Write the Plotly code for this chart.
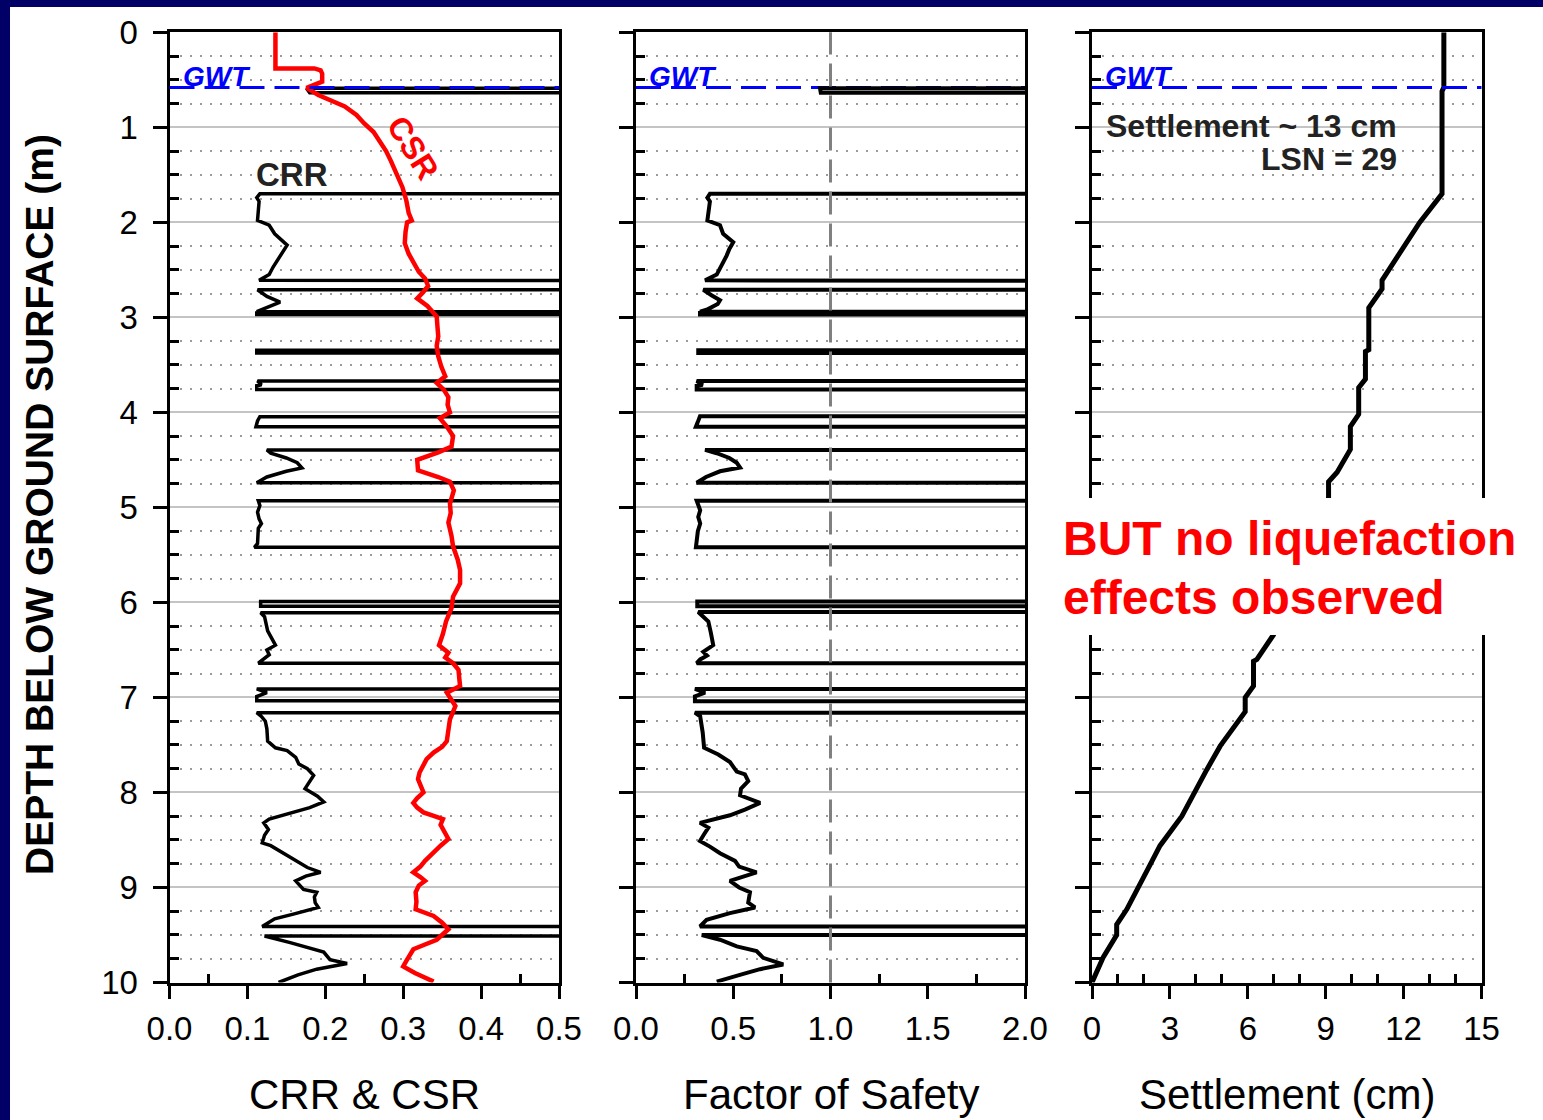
import plotly.graph_objects as go

W, H = 1543, 1120

# ---------------- data ----------------
# CRR (values of 2.0 mark non-liquefiable layers that plot off the right edge)
CRR_DEPTH = [0.00, 0.585, 0.59, 0.635, 0.64, 1.70, 1.70, 1.74, 1.78, 1.98, 2.03, 2.12, 2.24, 2.35, 2.47, 2.55, 2.61,
             2.625, 2.71, 2.71, 2.78, 2.84, 2.90, 2.94, 2.94, 2.955, 2.955, 2.97, 2.97,
             3.345, 3.345, 3.375, 3.375, 3.67, 3.67, 3.71, 3.72, 3.76, 3.76,
             4.045, 4.045, 4.09, 4.15, 4.15, 4.395, 4.395, 4.43, 4.48, 4.53, 4.585, 4.62, 4.68, 4.74, 4.74,
             4.93, 4.93, 4.98, 5.05, 5.12, 5.17, 5.22, 5.30, 5.38, 5.42, 5.42,
             5.99, 5.99, 6.04, 6.04, 6.11, 6.11, 6.15, 6.20, 6.30, 6.45, 6.50, 6.55, 6.60, 6.64, 6.64,
             6.91, 6.91, 6.95, 6.99, 7.035, 7.035, 7.16, 7.16, 7.20, 7.25, 7.33, 7.46, 7.53, 7.56, 7.63, 7.70,
             7.75, 7.82, 7.88, 7.96, 8.04, 8.10, 8.16, 8.24, 8.28, 8.32, 8.39, 8.45, 8.53, 8.56, 8.65, 8.72,
             8.79, 8.84, 8.88, 8.93, 9.02, 9.05, 9.10, 9.16, 9.21, 9.28, 9.33, 9.41, 9.41,
             9.51, 9.51, 9.58, 9.63, 9.68, 9.76, 9.80, 9.86, 9.92, 10.0]
CRR_VALUE = [2.0, 2.0, 0.176, 0.180, 2.0, 2.0, 0.116, 0.112, 0.115, 0.113, 0.128, 0.135, 0.151, 0.142, 0.133, 0.128, 0.115,
             2.0, 2.0, 0.113, 0.125, 0.142, 0.125, 0.112, 2.0, 2.0, 0.112, 0.112, 2.0,
             2.0, 0.112, 0.112, 2.0, 2.0, 0.113, 0.118, 0.112, 0.112, 2.0,
             2.0, 0.116, 0.113, 0.111, 2.0, 2.0, 0.125, 0.130, 0.150, 0.164, 0.170, 0.150, 0.125, 0.112, 2.0,
             2.0, 0.114, 0.116, 0.113, 0.115, 0.118, 0.114, 0.114, 0.113, 0.109, 2.0,
             2.0, 0.117, 0.117, 2.0, 2.0, 0.117, 0.122, 0.123, 0.126, 0.136, 0.125, 0.128, 0.120, 0.114, 2.0,
             2.0, 0.112, 0.125, 0.112, 0.112, 2.0, 2.0, 0.112, 0.118, 0.123, 0.125, 0.126, 0.136, 0.151, 0.162, 0.166,
             0.177, 0.185, 0.180, 0.174, 0.190, 0.198, 0.180, 0.146, 0.128, 0.121, 0.127, 0.122, 0.119, 0.130, 0.149, 0.164,
             0.177, 0.194, 0.175, 0.162, 0.172, 0.189, 0.186, 0.187, 0.191, 0.159, 0.135, 0.119, 2.0,
             2.0, 0.122, 0.155, 0.177, 0.198, 0.206, 0.228, 0.189, 0.165, 0.140]

CSR_DEPTH = [0.00, 0.38, 0.38, 0.40, 0.435, 0.52, 0.585, 0.62, 0.66, 0.72, 0.78, 0.87, 0.96, 1.05, 1.14, 1.25, 1.35,
             1.50, 1.63, 1.77, 1.90, 1.98, 2.00, 2.10, 2.22, 2.33, 2.43, 2.52, 2.59, 2.67, 2.74, 2.80, 2.88, 2.99,
             3.10, 3.20, 3.30, 3.41, 3.52, 3.62, 3.69, 3.76, 3.84, 3.92, 4.00, 4.06, 4.15, 4.25, 4.36, 4.42, 4.50,
             4.61, 4.68, 4.73, 4.82, 4.96, 5.06, 5.16, 5.30, 5.41, 5.55, 5.66, 5.80, 5.94, 6.06, 6.20, 6.33, 6.45,
             6.53, 6.58, 6.64, 6.71, 6.80, 6.88, 6.95, 7.02, 7.09, 7.23, 7.35, 7.46, 7.52, 7.58, 7.65, 7.72, 7.79,
             7.86, 7.93, 8.00, 8.06, 8.11, 8.16, 8.21, 8.25, 8.28, 8.34, 8.39, 8.49, 8.56, 8.63, 8.72, 8.78, 8.84,
             8.89, 8.93, 8.98, 9.05, 9.15, 9.23, 9.30, 9.37, 9.44, 9.49, 9.55, 9.60, 9.65, 9.76, 9.83, 9.90, 9.99]
CSR_VALUE = [0.136, 0.136, 0.186, 0.194, 0.196, 0.196, 0.176, 0.183, 0.191, 0.208, 0.225, 0.240, 0.250, 0.262, 0.270, 0.278, 0.284,
             0.292, 0.299, 0.304, 0.307, 0.311, 0.305, 0.303, 0.302, 0.307, 0.313, 0.320, 0.328, 0.332, 0.325, 0.318, 0.331, 0.343,
             0.344, 0.345, 0.343, 0.345, 0.349, 0.354, 0.343, 0.352, 0.358, 0.357, 0.360, 0.347, 0.356, 0.364, 0.362, 0.345, 0.318,
             0.319, 0.345, 0.360, 0.365, 0.360, 0.361, 0.358, 0.362, 0.364, 0.370, 0.373, 0.373, 0.364, 0.362, 0.355, 0.351, 0.346,
             0.358, 0.354, 0.364, 0.371, 0.372, 0.373, 0.356, 0.362, 0.367, 0.360, 0.358, 0.356, 0.350, 0.339, 0.330, 0.326, 0.321,
             0.319, 0.322, 0.326, 0.318, 0.313, 0.318, 0.326, 0.340, 0.351, 0.348, 0.351, 0.358, 0.348, 0.339, 0.328, 0.322, 0.313,
             0.322, 0.328, 0.320, 0.316, 0.317, 0.316, 0.339, 0.350, 0.358, 0.352, 0.343, 0.328, 0.313, 0.305, 0.300, 0.315, 0.339]

# Factor of safety (values of 5.0 mark non-liquefiable layers, off the right edge)
FS_DEPTH = [0.00, 0.585, 0.59, 0.635, 0.64, 1.70, 1.70, 1.74, 1.78, 1.98, 2.03, 2.12, 2.21, 2.28, 2.35, 2.47, 2.55, 2.61,
            2.625, 2.71, 2.71, 2.77, 2.82, 2.86, 2.92, 2.94, 2.94, 2.955, 2.955, 2.97, 2.97,
            3.345, 3.345, 3.375, 3.375, 3.67, 3.67, 3.71, 3.72, 3.76, 3.76,
            4.04, 4.04, 4.10, 4.15, 4.15, 4.395, 4.395, 4.43, 4.48, 4.53, 4.58, 4.62, 4.68, 4.74, 4.74,
            4.93, 4.93, 5.03, 5.10, 5.17, 5.25, 5.35, 5.42, 5.42,
            5.99, 5.99, 6.04, 6.04, 6.10, 6.10, 6.15, 6.20, 6.32, 6.45, 6.52, 6.56, 6.60, 6.64, 6.64,
            6.91, 6.91, 6.95, 6.99, 7.04, 7.04, 7.16, 7.16, 7.20, 7.37, 7.53, 7.60, 7.68, 7.78, 7.81, 7.88, 7.96,
            8.03, 8.11, 8.18, 8.24, 8.32, 8.37, 8.44, 8.51, 8.57, 8.64, 8.72, 8.78, 8.84, 8.93, 9.00, 9.05, 9.16,
            9.21, 9.27, 9.34, 9.41, 9.41, 9.50, 9.50, 9.55, 9.62, 9.67, 9.74, 9.81, 9.86, 9.91, 9.99]
FS_VALUE = [5.0, 5.0, 0.946, 0.950, 5.0, 5.0, 0.380, 0.367, 0.380, 0.367, 0.432, 0.448, 0.500, 0.480, 0.466, 0.432, 0.415, 0.355,
            5.0, 5.0, 0.346, 0.390, 0.432, 0.420, 0.363, 0.329, 5.0, 5.0, 0.329, 0.329, 5.0,
            5.0, 0.320, 0.320, 5.0, 5.0, 0.312, 0.343, 0.312, 0.312, 5.0,
            5.0, 0.329, 0.318, 0.308, 5.0, 5.0, 0.355, 0.415, 0.480, 0.518, 0.535, 0.432, 0.360, 0.312, 5.0,
            5.0, 0.312, 0.330, 0.320, 0.330, 0.318, 0.315, 0.308, 5.0,
            5.0, 0.315, 0.315, 5.0, 5.0, 0.320, 0.345, 0.372, 0.385, 0.397, 0.346, 0.365, 0.330, 0.312, 5.0,
            5.0, 0.303, 0.355, 0.303, 0.303, 5.0, 5.0, 0.303, 0.330, 0.343, 0.350, 0.423, 0.483, 0.518, 0.560, 0.577, 0.540,
            0.535, 0.638, 0.560, 0.483, 0.329, 0.372, 0.350, 0.329, 0.380, 0.432, 0.509, 0.530, 0.620, 0.483, 0.530, 0.586, 0.577,
            0.612, 0.483, 0.363, 0.329, 5.0, 5.0, 0.338, 0.432, 0.518, 0.620, 0.654, 0.757, 0.638, 0.552, 0.415]

SETTLE_DEPTH = [0.00, 0.58, 0.62, 1.70, 2.00, 2.61, 2.70, 2.90, 3.34, 3.36, 3.65, 3.74, 4.02, 4.15, 4.39, 4.63, 4.73,
                4.90, 5.40, 5.90, 6.34, 6.60, 6.62, 6.88, 7.00, 7.15, 7.51, 7.76, 8.25, 8.56, 8.76, 9.23, 9.39, 9.50,
                9.73, 10.00]
SETTLE_CM = [13.55, 13.55, 13.48, 13.48, 12.62, 11.17, 11.17, 10.66, 10.66, 10.53, 10.53, 10.27, 10.27, 9.95, 9.95, 9.44, 9.11,
             9.11, 8.40, 7.60, 6.99, 6.35, 6.22, 6.22, 5.90, 5.90, 4.94, 4.42, 3.46, 2.62, 2.24, 1.34, 0.95, 0.95,
             0.44, 0.00]

GWT_DEPTH = 0.58
FS_THRESHOLD = 1.0

DEPTH_TICKS = list(range(0, 11))
DEPTH_MINOR = [i + f for i in range(10) for f in (0.25, 0.5, 0.75)]
CRR_TICKS = [0.0, 0.1, 0.2, 0.3, 0.4, 0.5]
CRR_LABELS = ["0.0", "0.1", "0.2", "0.3", "0.4", "0.5"]
CRR_MINOR = [0.05, 0.25, 0.45]
FS_TICKS = [0.0, 0.5, 1.0, 1.5, 2.0]
FS_LABELS = ["0.0", "0.5", "1.0", "1.5", "2.0"]
FS_MINOR = [0.25, 0.75, 1.25, 1.75]
SET_TICKS = [0, 3, 6, 9, 12, 15]
SET_LABELS = ["0", "3", "6", "9", "12", "15"]
SET_MINOR = [1, 2, 4, 5, 7, 8, 10, 11, 13, 14]

# ---------------- layout helpers ----------------
def px(x):
    return x / W


def py(y):
    return 1 - y / H


FONT = "Arial, Liberation Sans, sans-serif"
TOP, BOTTOM = 32.3, 982.5
YDOM = [py(BOTTOM), py(TOP)]
PANELS = [(169.5, 559.0), (636.0, 1025.0), (1092.0, 1481.5)]

fig = go.Figure()

fig.add_trace(go.Scatter(x=CRR_VALUE, y=CRR_DEPTH, mode="lines", line=dict(color="black", width=3.5),
                         xaxis="x", yaxis="y", showlegend=False))
fig.add_trace(go.Scatter(x=CSR_VALUE, y=CSR_DEPTH, mode="lines", line=dict(color="#ff0000", width=4.5),
                         xaxis="x", yaxis="y", showlegend=False))
fig.add_trace(go.Scatter(x=FS_VALUE, y=FS_DEPTH, mode="lines", line=dict(color="black", width=4),
                         xaxis="x2", yaxis="y2", showlegend=False))
fig.add_trace(go.Scatter(x=SETTLE_CM, y=SETTLE_DEPTH, mode="lines", line=dict(color="black", width=5),
                         xaxis="x3", yaxis="y3", showlegend=False))


def xaxis_style(dom, rng, ticks, labels, minor, anchor):
    return dict(domain=[px(dom[0]), px(dom[1])], range=rng, anchor=anchor,
                tickmode="array", tickvals=ticks, ticktext=labels,
                ticks="outside", ticklen=13, tickwidth=3, tickcolor="black",
                showline=True, linewidth=3, linecolor="black", mirror=True,
                showgrid=False, zeroline=False, automargin=False,
                tickfont=dict(family=FONT, size=33, color="black"), ticklabelstandoff=2,
                minor=dict(tickmode="array", tickvals=minor, ticks="inside", ticklen=9,
                           tickwidth=2.5, tickcolor="black", showgrid=False),
                fixedrange=True)


def top_style(over, rng, minor, anchor):
    return dict(overlaying=over, side="top", anchor=anchor, range=rng,
                tickmode="array", tickvals=minor, ticks="inside", ticklen=9, tickwidth=2.5,
                tickcolor="black", showticklabels=False, showline=False, showgrid=False,
                zeroline=False, automargin=False, fixedrange=True)


def yaxis_style(anchor, labels):
    return dict(domain=YDOM, range=[10, 0], anchor=anchor,
                tickmode="array", tickvals=DEPTH_TICKS, showticklabels=labels,
                ticks="outside", ticklen=14, tickwidth=3, tickcolor="black",
                showline=True, linewidth=3, linecolor="black", mirror=True,
                showgrid=True, gridcolor="#c4c4c4", gridwidth=2, zeroline=False, automargin=False,
                tickfont=dict(family=FONT, size=33, color="black"), ticklabelstandoff=8,
                minor=dict(tickmode="array", tickvals=DEPTH_MINOR, ticks="inside", ticklen=9,
                           tickwidth=2.5, tickcolor="black", showgrid=True, gridcolor="#9a9a9a",
                           gridwidth=1.5, griddash="2px,8px"),
                fixedrange=True)


fig.update_layout(
    width=W, height=H, margin=dict(l=0, r=0, t=0, b=0),
    paper_bgcolor="#000066", plot_bgcolor="white", showlegend=False,
    xaxis=xaxis_style(PANELS[0], [0, 0.5], CRR_TICKS, CRR_LABELS, CRR_MINOR, "y"),
    xaxis2=xaxis_style(PANELS[1], [0, 2.0], FS_TICKS, FS_LABELS, FS_MINOR, "y2"),
    xaxis3=xaxis_style(PANELS[2], [0, 15], SET_TICKS, SET_LABELS, SET_MINOR, "y3"),
    xaxis4=top_style("x", [0, 0.5], CRR_MINOR, "y"),
    xaxis5=top_style("x2", [0, 2.0], FS_MINOR, "y2"),
    xaxis6=top_style("x3", [0, 15], SET_MINOR, "y3"),
    yaxis=yaxis_style("x", True),
    yaxis2=yaxis_style("x2", False),
    yaxis3=yaxis_style("x3", False),
)

shapes = [
    # white slide area
    dict(type="rect", xref="paper", yref="paper", x0=px(10), x1=1.0, y0=0.0, y1=py(7),
         fillcolor="white", line=dict(width=0), layer="below"),
]
for xr, yr, lay in (("x domain", "y", "above"), ("x2 domain", "y2", "below"), ("x3 domain", "y3", "above")):
    shapes.append(dict(type="line", xref=xr, yref=yr, x0=0, x1=1, y0=GWT_DEPTH, y1=GWT_DEPTH,
                       line=dict(color="#0000ff", width=3, dash="25px,10px"), layer=lay))
# FS = 1 reference line
shapes.append(dict(type="line", xref="x2", yref="y2 domain", x0=FS_THRESHOLD, x1=FS_THRESHOLD, y0=0, y1=1,
                   line=dict(color="#808080", width=3, dash="23px,9px"), layer="above"))
# white box behind the red message
shapes.append(dict(type="rect", xref="paper", yref="paper", x0=px(1055), x1=1.0, y0=py(635), y1=py(498),
                   fillcolor="white", line=dict(width=0), layer="above"))
fig.update_layout(shapes=shapes)

ann = []


def note(text, x, y, size, color="black", bold=False, italic=False, xanchor="center", yanchor="middle",
         angle=0, **kw):
    t = text
    if bold:
        t = "<b>" + t + "</b>"
    if italic:
        t = "<i>" + t + "</i>"
    d = dict(text=t, x=x, y=y, xref="paper", yref="paper", showarrow=False, xanchor=xanchor,
             yanchor=yanchor, textangle=angle, font=dict(family=FONT, size=size, color=color))
    d.update(kw)
    ann.append(d)


note("DEPTH BELOW GROUND SURFACE (m)", px(39), py(505), 39, bold=True, angle=-90)
note("CRR &amp; CSR", px(364), py(1094), 42)
note("Factor of Safety", px(830.5), py(1094), 42)
note("Settlement (cm)", px(1286.5), py(1094), 42)
note("CRR", px(292), py(174), 33, color="#222222", bold=True)
note("CSR", px(413), py(148), 32, color="#ff0000", bold=True, angle=58)
note("Settlement ~ 13 cm", px(1399), py(126), 32, color="#222222", bold=True, xanchor="right")
note("LSN = 29", px(1399), py(159), 32, color="#222222", bold=True, xanchor="right")
note("BUT no liquefaction", px(1061), py(538), 48, color="#ff0000", bold=True, xanchor="left")
note("effects observed", px(1061), py(597), 48, color="#ff0000", bold=True, xanchor="left")
for xr, yr in (("x domain", "y"), ("x2 domain", "y2"), ("x3 domain", "y3")):
    ann.append(dict(text="<b><i>GWT</i></b>", x=0, y=GWT_DEPTH, xref=xr, yref=yr, showarrow=False,
                    xanchor="left", yanchor="middle", xshift=11, yshift=11,
                    font=dict(family=FONT, size=28, color="#0000ff")))
fig.update_layout(annotations=ann)

fig.write_html("out.html")
